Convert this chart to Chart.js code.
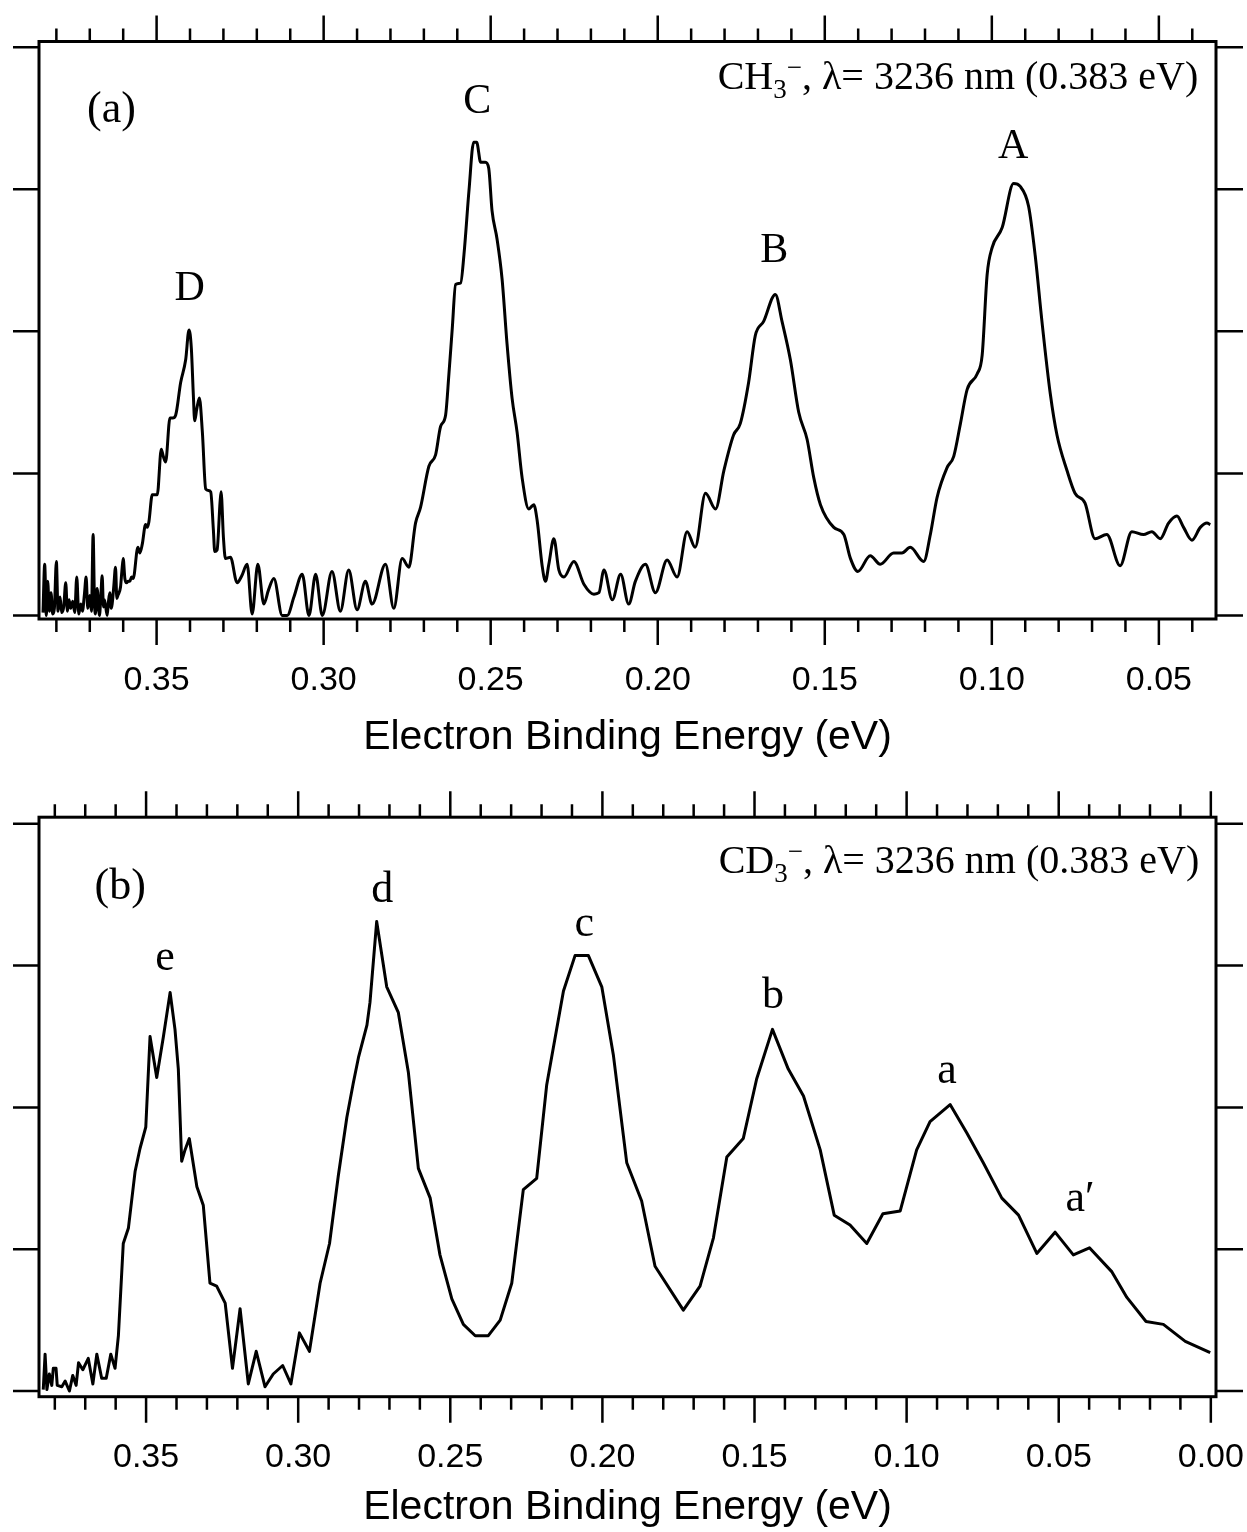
<!DOCTYPE html>
<html>
<head>
<meta charset="utf-8">
<script src="https://cdn.jsdelivr.net/npm/chart.js@4.4.1/dist/chart.umd.min.js"></script>
<style>
    html, body { margin: 0; padding: 0; background: #fff; }
    #wrap { position: relative; width: 1247px; height: 1532px; }
    canvas { position: absolute; left: 0; }
    #chart-a { top: 0; }
    #chart-b { top: 770px; }
</style>
</head>
<body>
<div id="wrap">
    <canvas id="chart-a" width="1247" height="770"></canvas>
    <canvas id="chart-b" width="1247" height="762"></canvas>
</div>
<script>
// (a) CH3- spectrum: electron binding energy (eV) and intensity (arb. units)
const energyA = [
    0.3840, 0.3835, 0.3830, 0.3826, 0.3821, 0.3816, 0.3811, 0.3806, 0.3800, 0.3795,
    0.3789, 0.3784, 0.3778, 0.3772, 0.3767, 0.3762, 0.3757, 0.3751, 0.3745, 0.3739,
    0.3733, 0.3727, 0.3722, 0.3716, 0.3711, 0.3706, 0.3700, 0.3695, 0.3690, 0.3686,
    0.3683, 0.3678, 0.3671, 0.3667, 0.3663, 0.3659, 0.3656, 0.3648, 0.3644, 0.3640,
    0.3636, 0.3633, 0.3628, 0.3623, 0.3619, 0.3616, 0.3608, 0.3604, 0.3600, 0.3595,
    0.3590, 0.3585, 0.3580, 0.3575, 0.3570, 0.3556, 0.3550, 0.3543, 0.3533, 0.3528,
    0.3523, 0.3513, 0.3505, 0.3498, 0.3486, 0.3480, 0.3473, 0.3460, 0.3452, 0.3443,
    0.3428, 0.3413, 0.3403, 0.3396, 0.3390, 0.3386, 0.3380, 0.3372, 0.3363, 0.3353,
    0.3345, 0.3338, 0.3330, 0.3326, 0.3319, 0.3310, 0.3307, 0.3300, 0.3294, 0.3279,
    0.3259, 0.3245, 0.3229, 0.3214, 0.3197, 0.3179, 0.3165, 0.3149, 0.3124, 0.3109,
    0.3089, 0.3064, 0.3044, 0.3024, 0.3004, 0.2975, 0.2950, 0.2925, 0.2900, 0.2875,
    0.2855, 0.2815, 0.2790, 0.2765, 0.2745, 0.2725, 0.2710, 0.2685, 0.2665, 0.2650,
    0.2635, 0.2625, 0.2615, 0.2605, 0.2590, 0.2580, 0.2565, 0.2551, 0.2542, 0.2530,
    0.2516, 0.2506, 0.2496, 0.2481, 0.2466, 0.2451, 0.2436, 0.2421, 0.2406, 0.2386,
    0.2371, 0.2361, 0.2346, 0.2336, 0.2326, 0.2311, 0.2296, 0.2281, 0.2251, 0.2221,
    0.2191, 0.2176, 0.2161, 0.2136, 0.2111, 0.2087, 0.2067, 0.2037, 0.2007, 0.1972,
    0.1942, 0.1912, 0.1888, 0.1857, 0.1827, 0.1802, 0.1773, 0.1753, 0.1728, 0.1708,
    0.1683, 0.1648, 0.1628, 0.1603, 0.1578, 0.1553, 0.1533, 0.1513, 0.1473, 0.1443,
    0.1423, 0.1401, 0.1364, 0.1334, 0.1294, 0.1269, 0.1244, 0.1204, 0.1184, 0.1164,
    0.1134, 0.1114, 0.1094, 0.1074, 0.1044, 0.1029, 0.1014, 0.0999, 0.0969, 0.0935,
    0.0915, 0.0890, 0.0870, 0.0850, 0.0825, 0.0805, 0.0775, 0.0751, 0.0721, 0.0691,
    0.0656, 0.0616, 0.0581, 0.0546, 0.0521, 0.0496, 0.0471, 0.0446, 0.0426, 0.0401,
    0.0376, 0.0356, 0.0346
];
const intensityA = [
    0.02, 0.36, 0.00, 0.24, 0.03, 0.16, 0.01, 0.05, 0.38, 0.03,
    0.13, 0.02, 0.06, 0.23, 0.03, 0.11, 0.05, 0.10, 0.02, 0.27,
    0.01, 0.08, 0.03, 0.15, 0.27, 0.05, 0.14, 0.03, 0.57, 0.10,
    0.01, 0.19, 0.00, 0.13, 0.28, 0.06, 0.11, 0.00, 0.10, 0.16,
    0.05, 0.08, 0.21, 0.34, 0.12, 0.14, 0.20, 0.31, 0.40, 0.26,
    0.23, 0.24, 0.24, 0.27, 0.26, 0.48, 0.44, 0.50, 0.64, 0.62,
    0.66, 0.85, 0.85, 0.85, 1.17, 1.12, 1.08, 1.39, 1.39, 1.41,
    1.64, 1.80, 2.01, 1.88, 1.55, 1.37, 1.45, 1.53, 1.29, 0.89,
    0.88, 0.87, 0.60, 0.45, 0.46, 0.80, 0.87, 0.55, 0.40, 0.41,
    0.23, 0.28, 0.36, 0.01, 0.36, 0.08, 0.18, 0.26, 0.00, 0.00,
    0.13, 0.29, 0.00, 0.29, 0.00, 0.31, 0.03, 0.32, 0.04, 0.24,
    0.08, 0.36, 0.05, 0.40, 0.34, 0.65, 0.76, 1.05, 1.13, 1.33,
    1.41, 1.70, 2.02, 2.33, 2.34, 2.54, 2.99, 3.33, 3.33, 3.19,
    3.19, 3.15, 2.85, 2.65, 2.37, 1.91, 1.53, 1.29, 0.97, 0.75,
    0.78, 0.67, 0.35, 0.24, 0.36, 0.54, 0.32, 0.27, 0.38, 0.22,
    0.15, 0.16, 0.32, 0.11, 0.29, 0.08, 0.24, 0.36, 0.16, 0.39,
    0.27, 0.59, 0.48, 0.86, 0.75, 1.02, 1.27, 1.35, 1.64, 1.97,
    2.07, 2.26, 2.07, 1.80, 1.43, 1.24, 0.97, 0.78, 0.62, 0.57,
    0.40, 0.31, 0.42, 0.36, 0.44, 0.44, 0.48, 0.38, 0.57, 0.83,
    1.04, 1.12, 1.35, 1.59, 1.70, 1.83, 2.40, 2.59, 2.73, 3.04,
    3.02, 2.88, 2.53, 2.07, 1.56, 1.27, 1.02, 0.86, 0.79, 0.54,
    0.57, 0.35, 0.59, 0.57, 0.59, 0.54, 0.65, 0.70, 0.62, 0.53,
    0.62, 0.65, 0.64
];

// (b) CD3- spectrum
const energyB = [
    0.3838, 0.3832, 0.3826, 0.3818, 0.3810, 0.3805, 0.3796, 0.3792, 0.3777, 0.3766,
    0.3752, 0.3741, 0.3730, 0.3722, 0.3708, 0.3690, 0.3675, 0.3662, 0.3646, 0.3631,
    0.3616, 0.3602, 0.3591, 0.3575, 0.3558, 0.3536, 0.3520, 0.3501, 0.3487, 0.3465,
    0.3443, 0.3421, 0.3405, 0.3394, 0.3383, 0.3372, 0.3358, 0.3333, 0.3312, 0.3290,
    0.3268, 0.3240, 0.3216, 0.3191, 0.3164, 0.3138, 0.3109, 0.3082, 0.3051, 0.3024,
    0.2996, 0.2963, 0.2928, 0.2897, 0.2868, 0.2840, 0.2819, 0.2802, 0.2774, 0.2764,
    0.2742, 0.2709, 0.2671, 0.2638, 0.2605, 0.2566, 0.2534, 0.2495, 0.2457, 0.2418,
    0.2375, 0.2336, 0.2298, 0.2260, 0.2216, 0.2183, 0.2128, 0.2090, 0.2046, 0.2002,
    0.1964, 0.1920, 0.1871, 0.1827, 0.1734, 0.1679, 0.1635, 0.1591, 0.1537, 0.1493,
    0.1441, 0.1389, 0.1339, 0.1284, 0.1238, 0.1186, 0.1131, 0.1078, 0.1021, 0.0967,
    0.0923, 0.0857, 0.0802, 0.0748, 0.0687, 0.0632, 0.0572, 0.0512, 0.0452, 0.0399,
    0.0325, 0.0276, 0.0213, 0.0156, 0.0084, 0.0002
];
const intensityB = [
    0.01, 0.26, 0.01, 0.12, 0.04, 0.16, 0.16, 0.04, 0.03, 0.07,
    0.00, 0.11, 0.04, 0.20, 0.15, 0.23, 0.05, 0.26, 0.09, 0.09,
    0.26, 0.16, 0.39, 1.04, 1.15, 1.55, 1.71, 1.86, 2.50, 2.21,
    2.50, 2.81, 2.55, 2.27, 1.62, 1.70, 1.78, 1.44, 1.31, 0.76,
    0.74, 0.62, 0.16, 0.58, 0.05, 0.28, 0.03, 0.12, 0.18, 0.05,
    0.41, 0.28, 0.76, 1.04, 1.52, 1.93, 2.17, 2.35, 2.58, 2.74,
    3.31, 2.85, 2.67, 2.25, 1.57, 1.36, 0.96, 0.65, 0.47, 0.39,
    0.39, 0.50, 0.76, 1.42, 1.50, 2.16, 2.82, 3.07, 3.07, 2.85,
    2.37, 1.61, 1.34, 0.88, 0.57, 0.74, 1.08, 1.65, 1.78, 2.20,
    2.55, 2.27, 2.08, 1.70, 1.24, 1.17, 1.04, 1.25, 1.27, 1.70,
    1.90, 2.02, 1.82, 1.61, 1.36, 1.24, 0.97, 1.12, 0.96, 1.01,
    0.84, 0.66, 0.49, 0.47, 0.35, 0.27
];

const xTicksA = [0.35, 0.30, 0.25, 0.20, 0.15, 0.10, 0.05];
const xTickLabelsA = ['0.35', '0.30', '0.25', '0.20', '0.15', '0.10', '0.05'];
const xTicksB = [0.35, 0.30, 0.25, 0.20, 0.15, 0.10, 0.05, 0.00];
const xTickLabelsB = ['0.35', '0.30', '0.25', '0.20', '0.15', '0.10', '0.05', '0.00'];
const yTicks = [0, 1, 2, 3, 4];

const peakNamesA = ['(a)', 'D', 'C', 'B', 'A'];
const peakNamesB = ['(b)', 'e', 'd', 'c', 'b', 'a', 'a\u2032'];

const serif = '"Liberation Serif", "Times New Roman", serif';
const sans = '"Liberation Sans", Arial, sans-serif';

// label anchors in data units (energy, intensity at text baseline)
const labelSpotsA = [[0.3635, 3.47, 44], [0.3401, 2.22, 42], [0.2540, 3.54, 42], [0.1651, 2.49, 42], [0.0936, 3.22, 42]];
const labelSpotsB = [[0.3585, 3.47, 44], [0.3438, 2.97, 44], [0.2724, 3.45, 44], [0.2060, 3.21, 44], [0.1439, 2.70, 44], [0.0867, 2.17, 44], [0.0430, 1.27, 44]];

function drawFormula(ctx, species, xRight, yBase) {
    const parts = [
        { t: species, size: 40, dy: 0 },
        { t: '3', size: 27, dy: 9 },
        { t: '\u2212', size: 27, dy: -13 },
        { t: ', \u03bb= 3236 nm (0.383 eV)', size: 40, dy: 0 }
    ];
    let total = 0;
    parts.forEach(p => {
        ctx.font = `${p.size}px ${serif}`;
        p.w = ctx.measureText(p.t).width;
        total += p.w;
    });
    let x = xRight - total;
    ctx.textAlign = 'left';
    parts.forEach(p => {
        ctx.font = `${p.size}px ${serif}`;
        ctx.fillText(p.t, x, yBase + p.dy);
        x += p.w;
    });
}

const framePlugin = {
    id: 'frame',
    afterDraw(chart, args, opts) {
        const { ctx, chartArea: a } = chart;
        const xs = chart.scales.x;
        const ys = chart.scales.y;
        ctx.save();
        ctx.strokeStyle = '#000';
        ctx.fillStyle = '#000';
        ctx.lineWidth = 3;
        ctx.strokeRect(a.left, a.top, a.right - a.left, a.bottom - a.top);

        ctx.lineWidth = 2.5;
        ctx.beginPath();
        for (let i = 0; i <= 39; i++) {
            const v = i / 100;
            if (v < xs.min - 1e-9 || v > xs.max + 1e-9) continue;
            const px = xs.getPixelForValue(v);
            const len = i % 5 === 0 ? 26 : 13;
            ctx.moveTo(px, a.bottom);
            ctx.lineTo(px, a.bottom + len);
            ctx.moveTo(px, a.top);
            ctx.lineTo(px, a.top - len);
        }
        yTicks.forEach(t => {
            const py = ys.getPixelForValue(t);
            ctx.moveTo(a.left - 26, py);
            ctx.lineTo(a.left, py);
            ctx.moveTo(a.right, py);
            ctx.lineTo(a.right + 27, py);
        });
        ctx.stroke();

        ctx.textBaseline = 'alphabetic';
        ctx.textAlign = 'center';
        opts.names.forEach((name, i) => {
            const [e, v, size] = opts.spots[i];
            ctx.font = `${size}px ${serif}`;
            ctx.fillText(name, xs.getPixelForValue(e), ys.getPixelForValue(v));
        });
        drawFormula(ctx, opts.species, xs.getPixelForValue(opts.formula[0]), ys.getPixelForValue(opts.formula[1]));
        ctx.restore();
    }
};

function makePanel(id, energies, intensities, cfg) {
    const points = energies.map((e, i) => ({ x: e, y: intensities[i] }));
    return new Chart(document.getElementById(id), {
        type: 'line',
        data: {
            datasets: [{
                data: points,
                borderColor: '#000',
                borderWidth: 3,
                borderJoinStyle: 'round',
                pointRadius: 0,
                fill: false,
                tension: cfg.tension,
                cubicInterpolationMode: cfg.mode
            }]
        },
        options: {
            responsive: false,
            animation: false,
            devicePixelRatio: 1,
            layout: { padding: { left: 39, right: 31, top: cfg.padTop, bottom: 0 } },
            plugins: {
                legend: { display: false },
                tooltip: { enabled: false },
                frame: { names: cfg.names, spots: cfg.spots, species: cfg.species, formula: cfg.formula }
            },
            scales: {
                x: {
                    type: 'linear',
                    reverse: true,
                    min: cfg.xMin,
                    max: cfg.xMax,
                    afterBuildTicks: s => { s.ticks = cfg.ticks.map(v => ({ value: v })); },
                    afterFit: s => {
                        s.height = cfg.axisHeight;
                        s.paddingLeft = 0;
                        s.paddingRight = 0;
                    },
                    grid: { display: false, drawTicks: false },
                    border: { display: false },
                    ticks: {
                        autoSkip: false,
                        maxRotation: 0,
                        padding: 41,
                        color: '#000',
                        font: { family: sans, size: 34 },
                        callback: (v, i) => cfg.tickLabels[i]
                    },
                    title: {
                        display: true,
                        text: 'Electron Binding Energy (eV)',
                        color: '#000',
                        font: { family: sans, size: 41 },
                        padding: { top: 0, bottom: cfg.titlePad }
                    }
                },
                y: {
                    display: false,
                    min: cfg.yMin,
                    max: cfg.yMax
                }
            }
        },
        plugins: [framePlugin]
    });
}

makePanel('chart-a', energyA, intensityA, {
    xMin: 0.0329, xMax: 0.3852, yMin: -0.025, yMax: 4.04,
    padTop: 41.5, axisHeight: 151, titlePad: 8,
    ticks: xTicksA, tickLabels: xTickLabelsA,
    tension: 0, mode: 'monotone',
    names: peakNamesA, spots: labelSpotsA,
    species: 'CH', formula: [0.0382, 3.705]
});

makePanel('chart-b', energyB, intensityB, {
    xMin: -0.0017, xMax: 0.3852, yMin: -0.04, yMax: 4.046,
    padTop: 47.2, axisHeight: 135.3, titlePad: 0,
    ticks: xTicksB, tickLabels: xTickLabelsB,
    tension: 0, mode: 'default',
    names: peakNamesB, spots: labelSpotsB,
    species: 'CD', formula: [0.0038, 3.653]
});
</script>
</body>
</html>
